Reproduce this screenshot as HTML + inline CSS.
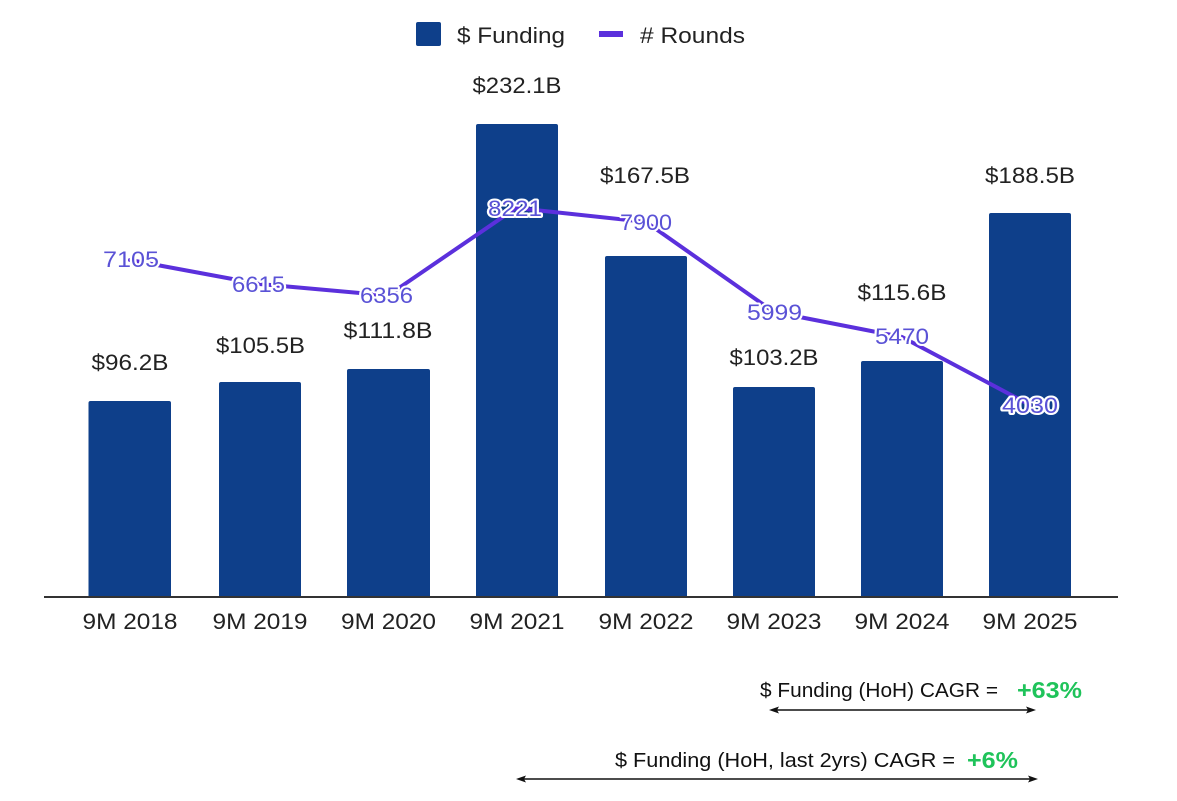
<!DOCTYPE html>
<html>
<head>
<meta charset="utf-8">
<style>
  html,body{margin:0;padding:0;background:#fff;}
  svg{display:block;}
  .fl{font-family:"Liberation Sans",Arial,sans-serif;font-size:22px;fill:#222;text-anchor:middle;paint-order:stroke;stroke:#fff;stroke-width:3px;stroke-linejoin:round;}
  .rl{font-family:"Liberation Sans",Arial,sans-serif;font-size:22px;fill:#5a52d6;text-anchor:middle;paint-order:stroke;stroke:#fff;stroke-width:4px;stroke-linejoin:round;}
  .xl{font-family:"Liberation Sans",Arial,sans-serif;font-size:22px;fill:#222;text-anchor:middle;}
  .lg{font-family:"Liberation Sans",Arial,sans-serif;font-size:22px;fill:#222;}
  .an{font-family:"Liberation Sans",Arial,sans-serif;font-size:20px;fill:#111;}
  .gr{font-family:"Liberation Sans",Arial,sans-serif;font-size:23px;font-weight:bold;fill:#1fc35a;}
</style>
</head>
<body>
<svg width="1177" height="801" viewBox="0 0 1177 801" xmlns="http://www.w3.org/2000/svg">
  <!-- Legend -->
  <rect x="416" y="22" width="25" height="24" rx="2" fill="#0e3f8a"/>
  <text class="lg" x="457" y="43" textLength="108" lengthAdjust="spacingAndGlyphs">$ Funding</text>
  <rect x="599" y="31" width="24" height="6" fill="#5b30dc"/>
  <text class="lg" x="640" y="43" textLength="105" lengthAdjust="spacingAndGlyphs"># Rounds</text>

  <!-- Bars -->
  <g fill="#0e3f8a">
    <path d="M88.5 597 V403 Q88.5 401 90.5 401 H169 Q171 401 171 403 V597 Z"/>
    <path d="M219 597 V384 Q219 382 221 382 H299 Q301 382 301 384 V597 Z"/>
    <path d="M347 597 V371 Q347 369 349 369 H428 Q430 369 430 371 V597 Z"/>
    <path d="M476 597 V126 Q476 124 478 124 H556 Q558 124 558 126 V597 Z"/>
    <path d="M605 597 V258 Q605 256 607 256 H685 Q687 256 687 258 V597 Z"/>
    <path d="M733 597 V389 Q733 387 735 387 H813 Q815 387 815 389 V597 Z"/>
    <path d="M861 597 V363 Q861 361 863 361 H941 Q943 361 943 363 V597 Z"/>
    <path d="M989 597 V215 Q989 213 991 213 H1069 Q1071 213 1071 215 V597 Z"/>
  </g>

  <!-- Axis line -->
  <rect x="44" y="596" width="1074" height="2" fill="#333"/>

  <!-- X labels -->
  <text class="xl" x="130" y="629" textLength="95" lengthAdjust="spacingAndGlyphs">9M 2018</text>
  <text class="xl" x="260" y="629" textLength="95" lengthAdjust="spacingAndGlyphs">9M 2019</text>
  <text class="xl" x="388.5" y="629" textLength="95" lengthAdjust="spacingAndGlyphs">9M 2020</text>
  <text class="xl" x="517" y="629" textLength="95" lengthAdjust="spacingAndGlyphs">9M 2021</text>
  <text class="xl" x="646" y="629" textLength="95" lengthAdjust="spacingAndGlyphs">9M 2022</text>
  <text class="xl" x="774" y="629" textLength="95" lengthAdjust="spacingAndGlyphs">9M 2023</text>
  <text class="xl" x="902" y="629" textLength="95" lengthAdjust="spacingAndGlyphs">9M 2024</text>
  <text class="xl" x="1030" y="629" textLength="95" lengthAdjust="spacingAndGlyphs">9M 2025</text>

  <!-- Rounds line -->
  <polyline points="130,260 259.5,284 388,295.5 516,208 646,222 774,312 902,337 1030,405" fill="none" stroke="#5b30dc" stroke-width="4" stroke-linejoin="round" stroke-linecap="round"/>

  <!-- Funding labels -->
  <text class="fl" x="130" y="370" textLength="77" lengthAdjust="spacingAndGlyphs">$96.2B</text>
  <text class="fl" x="260.5" y="353" textLength="89" lengthAdjust="spacingAndGlyphs">$105.5B</text>
  <text class="fl" x="388" y="338" textLength="89" lengthAdjust="spacingAndGlyphs">$111.8B</text>
  <text class="fl" x="517" y="93" textLength="89" lengthAdjust="spacingAndGlyphs">$232.1B</text>
  <text class="fl" x="645" y="183" textLength="90" lengthAdjust="spacingAndGlyphs">$167.5B</text>
  <text class="fl" x="774" y="365" textLength="89" lengthAdjust="spacingAndGlyphs">$103.2B</text>
  <text class="fl" x="902" y="300" textLength="89" lengthAdjust="spacingAndGlyphs">$115.6B</text>
  <text class="fl" x="1030" y="183" textLength="90" lengthAdjust="spacingAndGlyphs">$188.5B</text>

  <!-- Rounds labels -->
  <text class="rl" x="131" y="267" textLength="56" lengthAdjust="spacingAndGlyphs">7105</text>
  <text class="rl" x="258.5" y="292" textLength="53" lengthAdjust="spacingAndGlyphs">6615</text>
  <text class="rl" x="386.5" y="303" textLength="53" lengthAdjust="spacingAndGlyphs">6356</text>
  <text class="rl" x="515" y="216" textLength="54" lengthAdjust="spacingAndGlyphs">8221</text>
  <text class="rl" x="646" y="230" textLength="52" lengthAdjust="spacingAndGlyphs">7900</text>
  <text class="rl" x="774.5" y="320" textLength="55" lengthAdjust="spacingAndGlyphs">5999</text>
  <text class="rl" x="902" y="344" textLength="54" lengthAdjust="spacingAndGlyphs">5470</text>
  <text class="rl" x="1030" y="413" textLength="56" lengthAdjust="spacingAndGlyphs">4030</text>

  <!-- Annotation 1 -->
  <text class="an" x="760" y="697" textLength="238" lengthAdjust="spacingAndGlyphs">$ Funding (HoH) CAGR =</text>
  <text class="gr" x="1017" y="698" textLength="65" lengthAdjust="spacingAndGlyphs">+63%</text>
  <line x1="776" y1="710" x2="1029" y2="710" stroke="#111" stroke-width="1.5"/>
  <polygon points="769,710 779,706.5 777,710 779,713.5" fill="#111"/>
  <polygon points="1036,710 1026,706.5 1028,710 1026,713.5" fill="#111"/>

  <!-- Annotation 2 -->
  <text class="an" x="615" y="767" textLength="340" lengthAdjust="spacingAndGlyphs">$ Funding (HoH, last 2yrs) CAGR =</text>
  <text class="gr" x="967" y="768" textLength="51" lengthAdjust="spacingAndGlyphs">+6%</text>
  <line x1="523" y1="779" x2="1031" y2="779" stroke="#111" stroke-width="1.5"/>
  <polygon points="516,779 526,775.5 524,779 526,782.5" fill="#111"/>
  <polygon points="1038,779 1028,775.5 1030,779 1028,782.5" fill="#111"/>
</svg>
</body>
</html>
